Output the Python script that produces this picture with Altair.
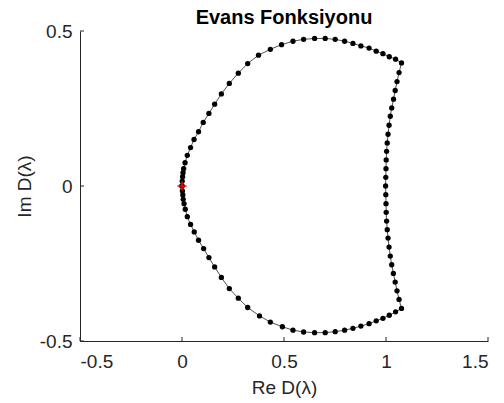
import altair as alt
import pandas as pd

# Upper arc: from origin up to the upper-right corner
upper_re = [0.000, 0.001, 0.003, 0.005, 0.008, 0.015, 0.026, 0.042, 0.059, 0.081,
            0.104, 0.132, 0.160, 0.193, 0.232, 0.276, 0.322, 0.375, 0.433, 0.488,
            0.544, 0.596, 0.650, 0.702, 0.751, 0.797, 0.838, 0.877, 0.917, 0.952,
            0.985, 1.016, 1.047, 1.076]
upper_im = [0.000, 0.016, 0.030, 0.043, 0.056, 0.075, 0.099, 0.124, 0.150, 0.175,
            0.205, 0.234, 0.264, 0.297, 0.331, 0.364, 0.395, 0.422, 0.441, 0.456,
            0.467, 0.473, 0.476, 0.476, 0.473, 0.467, 0.460, 0.452, 0.445, 0.435,
            0.427, 0.417, 0.409, 0.397]

# Right side: from the upper-right corner down to the lower-right corner
right_re = [1.064, 1.054, 1.045, 1.037, 1.028, 1.021, 1.015, 1.010, 1.006, 1.003,
            1.001, 1.000, 0.999, 0.998, 0.999, 1.000, 1.001, 1.003, 1.006, 1.010,
            1.015, 1.021, 1.028, 1.036, 1.045, 1.054, 1.064, 1.076]
right_im = [0.366, 0.337, 0.308, 0.280, 0.252, 0.225, 0.196, 0.167, 0.139, 0.112,
            0.084, 0.056, 0.028, 0.000, -0.028, -0.057, -0.085, -0.113, -0.141, -0.168,
            -0.197, -0.226, -0.254, -0.282, -0.310, -0.338, -0.366, -0.395]

# Lower arc: from the lower-right corner back to the origin
lower_re = [1.047, 1.016, 0.985, 0.952, 0.917, 0.877, 0.838, 0.797, 0.751, 0.702,
            0.650, 0.596, 0.544, 0.492, 0.433, 0.380, 0.322, 0.276, 0.232, 0.193,
            0.160, 0.132, 0.106, 0.081, 0.060, 0.042, 0.026, 0.016, 0.010, 0.006,
            0.004, 0.002, 0.000]
lower_im = [-0.406, -0.417, -0.427, -0.435, -0.444, -0.452, -0.459, -0.465, -0.470, -0.473,
            -0.473, -0.471, -0.465, -0.454, -0.439, -0.419, -0.392, -0.362, -0.331, -0.295,
            -0.261, -0.231, -0.202, -0.175, -0.148, -0.124, -0.099, -0.075, -0.057, -0.043,
            -0.029, -0.016, 0.000]

origin_re = [0.0]
origin_im = [0.0]

x_ticks = [-0.5, 0, 0.5, 1, 1.5]
y_ticks = [-0.5, 0, 0.5]

re_vals = upper_re + right_re + lower_re
im_vals = upper_im + right_im + lower_im
df = pd.DataFrame({"re": re_vals, "im": im_vals, "k": list(range(len(re_vals)))})

AX = "#262626"
FONT = "Liberation Sans"

xscale = alt.Scale(domain=[-0.5, 1.5], nice=False, zero=False)
yscale = alt.Scale(domain=[-0.5, 0.5], nice=False, zero=False)

x_axis = alt.Axis(values=x_ticks, labelExpr="toString(datum.value)", ticks=False,
                  labelPadding=11, titleY=52, titleBaseline="alphabetic")
y_axis = alt.Axis(values=y_ticks, labelExpr="toString(datum.value)", ticks=False,
                  labelPadding=8, titleX=-50, titleY=155, titleBaseline="alphabetic",
                  titleAngle=-90, titleAlign="center")

base = alt.Chart(df)

line = base.mark_line(color="#3c3c3c", strokeWidth=0.9).encode(
    x=alt.X("re:Q", scale=xscale, axis=x_axis, title="Re D(λ)"),
    y=alt.Y("im:Q", scale=yscale, axis=y_axis, title="Im D(λ)"),
    order="k:Q",
)

points = base.mark_circle(color="black", size=28, opacity=1).encode(
    x=alt.X("re:Q", title="Re D(λ)"),
    y=alt.Y("im:Q", title="Im D(λ)"),
)

xt = alt.Chart(pd.DataFrame({"t": x_ticks})).mark_rule(color=AX, strokeWidth=1).encode(
    x=alt.X("t:Q", scale=xscale, title="Re D(λ)"),
    y=alt.value(310), y2=alt.value(306),
)
yt = alt.Chart(pd.DataFrame({"t": y_ticks})).mark_rule(color=AX, strokeWidth=1).encode(
    y=alt.Y("t:Q", scale=yscale, title="Im D(λ)"),
    x=alt.value(0), x2=alt.value(4),
)

plus = alt.Chart(pd.DataFrame({"re": origin_re, "im": origin_im})).mark_point(
    shape="M-1,0L1,0M0,-1L0,1", size=81, stroke="#ff0000", strokeWidth=1.6,
    filled=False, opacity=1,
).encode(x=alt.X("re:Q", title="Re D(λ)"), y=alt.Y("im:Q", title="Im D(λ)"))

chart = alt.layer(line, points, xt, yt, plus).properties(
    width=408, height=310,
    title=alt.TitleParams("Evans Fonksiyonu", font=FONT, fontSize=20, fontWeight="bold",
                          color="black", anchor="middle", offset=-6),
    autosize=alt.AutoSizeParams(type="none"),
    padding={"left": 80, "top": 31, "right": 16, "bottom": 62},
).configure_view(stroke=None).configure_axis(
    grid=False, domainColor=AX, domainWidth=1,
    labelFont=FONT, labelFontSize=19, labelColor=AX,
    titleFont=FONT, titleFontSize=19, titleFontWeight="normal", titleColor=AX,
)

chart.save("out.html", embed_options={"renderer": "svg", "actions": False})
